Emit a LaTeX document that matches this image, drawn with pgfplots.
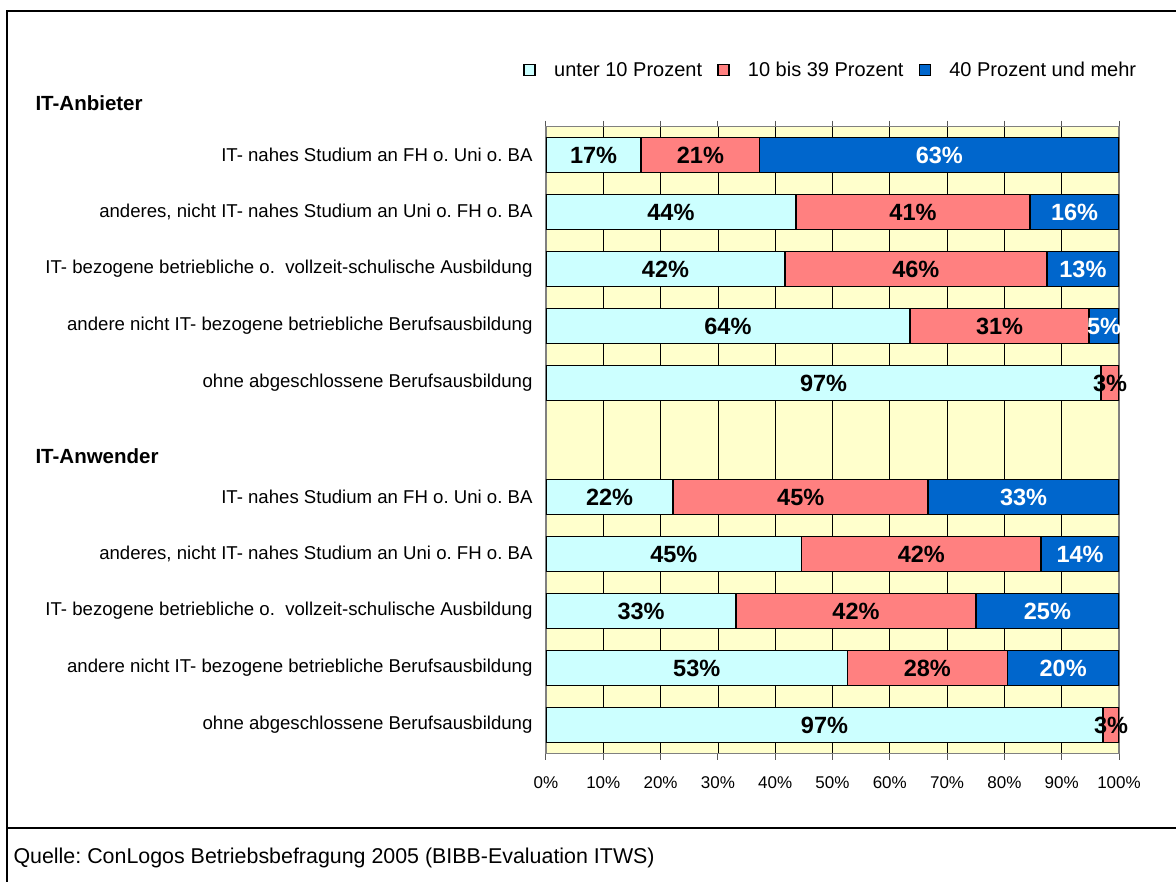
\documentclass[border=0pt]{standalone}
\usepackage{pgfplots}
\usepackage{pgfplotstable}
\pgfplotsset{compat=1.18}
\usepackage{fontspec}
\setmainfont{Liberation Sans}
\frenchspacing
\definecolor{cCyan}{HTML}{CCFFFF}
\definecolor{cRed}{HTML}{FF8080}
\definecolor{cBlue}{HTML}{0066CC}
\definecolor{cBg}{HTML}{FFFFCC}

% rows: 1-5 IT-Anbieter, 7-11 IT-Anwender
\pgfplotstableread{
row a b c
1 16.6 20.7 62.7
2 43.6 40.9 15.5
3 41.7 45.7 12.6
4 63.5 31.3 5.2
5 96.9 3.1 0
7 22.2 44.5 33.3
8 44.6 41.8 13.6
9 33.2 41.8 25.0
10 52.6 27.9 19.5
11 97.2 2.8 0
}\bars

% label positions (segment centres) and texts
\pgfplotstableread{
x y lab
8.3 1 17
26.95 1 21
21.8 2 44
64.05 2 41
20.85 3 42
64.55 3 46
31.75 4 64
79.15 4 31
48.45 5 97
98.45 5 3
11.1 7 22
44.45 7 45
22.3 8 45
65.5 8 42
16.6 9 33
54.1 9 42
26.3 10 53
66.55 10 28
48.6 11 97
98.6 11 3
}\labblack

\pgfplotstableread{
x y lab
68.65 1 63
92.25 2 16
93.7 3 13
97.4 4 5
83.35 7 33
93.2 8 14
87.5 9 25
90.25 10 20
}\labwhite

\begin{document}
\begin{tikzpicture}
\useasboundingbox (0pt,0pt) rectangle (1176pt,-882pt);
\draw[line width=2pt] (7pt,-883pt) -- (7pt,-11pt) -- (1177pt,-11pt);
\draw[line width=2pt] (7pt,-828pt) -- (1177pt,-828pt);
\node[anchor=west, font=\fontsize{21.4}{25}\selectfont] at (10pt,-858pt) {Quelle: ConLogos Betriebsbefragung 2005 (BIBB-Evaluation ITWS)};
\node[anchor=west, font=\fontsize{20.5}{24}\selectfont\bfseries] at (32pt,-103pt) {IT-Anbieter};
\node[anchor=west, font=\fontsize{20.5}{24}\selectfont\bfseries] at (32pt,-456pt) {IT-Anwender};

\begin{axis}[
  at={(546pt,-753.5pt)}, anchor=south west,
  scale only axis, width=573pt, height=627pt,
  xbar stacked, bar width=35pt,
  xmin=0, xmax=100, ymin=0.5, ymax=11.5, y dir=reverse,
  xtick={0,10,...,100},
  xticklabel={\pgfmathprintnumber{\tick}\%},
  /pgf/number format/assume math mode=true,
  x tick label style={font=\fontsize{17}{20}\selectfont, yshift=-14pt},
  ytick={1,2,3,4,5,7,8,9,10,11},
  yticklabels={
    IT- nahes Studium an FH o. Uni o. BA,
    {anderes, nicht IT- nahes Studium an Uni o. FH o. BA},
    IT- bezogene betriebliche o.\ \ vollzeit-schulische Ausbildung,
    andere nicht IT- bezogene betriebliche Berufsausbildung,
    ohne abgeschlossene Berufsausbildung,
    IT- nahes Studium an FH o. Uni o. BA,
    {anderes, nicht IT- nahes Studium an Uni o. FH o. BA},
    IT- bezogene betriebliche o.\ \ vollzeit-schulische Ausbildung,
    andere nicht IT- bezogene betriebliche Berufsausbildung,
    ohne abgeschlossene Berufsausbildung},
  y tick label style={font=\fontsize{18.6}{22}\selectfont, anchor=east, xshift=-4pt},
  ytick style={draw=none},
  xtick style={draw=gray!70!black, line width=1pt},
  tick align=outside, major tick length=6pt,
  xmajorgrids, major grid style={black, line width=0.8pt},
  axis line style={draw=gray, line width=1.2pt},
  axis background/.style={fill=cBg},
  legend columns=3,
  legend style={draw=none, fill=none, at={(1.039,1.09)}, anchor=east,
    font=\fontsize{20}{24}\selectfont,
    /tikz/every odd column/.append style={column sep=16pt},
    /tikz/every even column/.append style={column sep=13pt}},
  legend cell align=left,
]
\addplot[fill=cCyan, draw=black, line width=1.5pt,
  legend image code/.code={\draw[fill=cCyan, draw=black, line width=1.8pt] (0pt,-5.5pt) rectangle (11pt,5.5pt);}]
  table[x=a, y=row] {\bars};
\addlegendentry{unter 10 Prozent}
\addplot[fill=cRed, draw=black, line width=1.5pt,
  legend image code/.code={\draw[fill=cRed, draw=black, line width=1.8pt] (0pt,-5.5pt) rectangle (11pt,5.5pt);}]
  table[x=b, y=row] {\bars};
\addlegendentry{10 bis 39 Prozent}
\addplot[fill=cBlue, draw=black, line width=1.5pt,
  legend image code/.code={\draw[fill=cBlue, draw=black, line width=1.8pt] (0pt,-5.5pt) rectangle (11pt,5.5pt);}]
  table[x=c, y=row] {\bars};
\addlegendentry{40 Prozent und mehr}
\end{axis}

\begin{axis}[
  at={(546pt,-753.5pt)}, anchor=south west,
  scale only axis, width=573pt, height=627pt,
  xmin=0, xmax=100, ymin=0.5, ymax=11.5, y dir=reverse,
  hide axis, clip=false,
]
\addplot[draw=none, mark=none, point meta=explicit symbolic,
  nodes near coords={\pgfplotspointmeta\%}, nodes near coords align=center,
  every node near coord/.append style={font=\fontsize{23.5}{26}\selectfont\bfseries, text=black}]
  table[x=x, y=y, meta=lab] {\labblack};
\addplot[draw=none, mark=none, point meta=explicit symbolic,
  nodes near coords={\pgfplotspointmeta\%}, nodes near coords align=center,
  every node near coord/.append style={font=\fontsize{23.5}{26}\selectfont\bfseries, text=white}]
  table[x=x, y=y, meta=lab] {\labwhite};
\end{axis}
\end{tikzpicture}
\end{document}
